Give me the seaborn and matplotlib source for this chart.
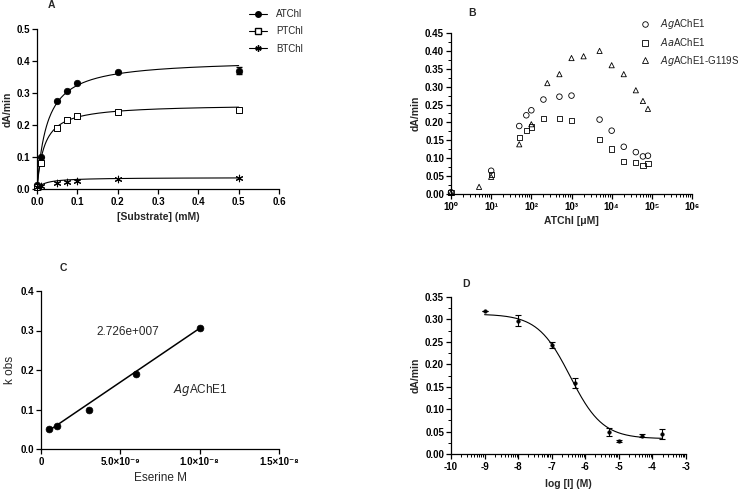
import numpy as np
import pandas as pd
import matplotlib
matplotlib.use("Agg")
import matplotlib.pyplot as plt
import seaborn as sns
from matplotlib.lines import Line2D
from matplotlib.ticker import FixedLocator, MultipleLocator, LogLocator, NullFormatter, FormatStrFormatter

# ---------------- data ----------------
# Panel A: substrate kinetics
subs_mM = [0.0, 0.01, 0.05, 0.075, 0.1, 0.2, 0.5]
atchl = [0.012, 0.100, 0.275, 0.305, 0.330, 0.367, 0.370]
atchl_err = [0, 0, 0, 0, 0, 0, 0.012]
ptchl = [0.005, 0.080, 0.190, 0.215, 0.227, 0.241, 0.247]
btchl = [0.005, 0.008, 0.020, 0.022, 0.025, 0.030, 0.033]
# Michaelis-Menten fit parameters (Vmax, Km)
fit_atchl = (0.405, 0.025)
fit_ptchl = (0.265, 0.018)
fit_btchl = (0.036, 0.020)

# Panel B: substrate inhibition
agache1_x = [1, 10, 50, 75, 100, 200, 500, 1000, 5000, 10000, 20000, 40000, 60000, 80000]
agache1_y = [0.005, 0.065, 0.190, 0.220, 0.234, 0.264, 0.272, 0.275, 0.208, 0.177, 0.132, 0.117, 0.105, 0.107]
aaache1_x = [1, 10, 50, 75, 100, 200, 500, 1000, 5000, 10000, 20000, 40000, 60000, 80000]
aaache1_y = [0.005, 0.055, 0.158, 0.177, 0.187, 0.212, 0.210, 0.205, 0.152, 0.126, 0.090, 0.087, 0.080, 0.085]
g119s_x = [1, 5, 10, 50, 100, 250, 500, 1000, 2000, 5000, 10000, 20000, 40000, 60000, 80000]
g119s_y = [0.003, 0.020, 0.048, 0.139, 0.195, 0.310, 0.335, 0.380, 0.385, 0.400, 0.360, 0.335, 0.290, 0.260, 0.238]
b_xticklabels = ["10⁰", "10¹", "10²", "10³", "10⁴", "10⁵", "10⁶"]

# Panel C: kobs vs eserine
eserine_M = [0.5e-9, 1e-9, 3e-9, 6e-9, 1e-8]
kobs = [0.051, 0.059, 0.099, 0.191, 0.306]
kobs_slope = 2.726e7
kobs_intercept = 0.033
c_xticks = [0, 5e-9, 1e-8, 1.5e-8]
c_xticklabels = ["0", "5.0×10⁻⁹", "1.0×10⁻⁸", "1.5×10⁻⁸"]

# Panel D: inhibition curve
log_I = [-9, -8, -7, -6.3, -5.3, -5, -4.3, -3.7]
rate_D = [0.318, 0.297, 0.243, 0.158, 0.049, 0.029, 0.041, 0.045]
rate_D_err = [0, 0.012, 0.007, 0.011, 0.008, 0.003, 0.004, 0.011]
# four-parameter logistic fit (top, bottom, logIC50, hill)
fit_D = (0.312, 0.034, -6.45, 0.9)

# ---------------- style ----------------
sns.set_theme(style="ticks")
FAM = ["Liberation Sans", "DejaVu Sans"]
plt.rcParams["font.family"] = FAM
plt.rcParams.update({
    "axes.linewidth": 0.9,
    "xtick.major.width": 0.9, "ytick.major.width": 0.9,
    "xtick.minor.width": 0.7, "ytick.minor.width": 0.7,
    "xtick.major.size": 3.5, "ytick.major.size": 3.5,
    "xtick.minor.size": 2.0, "ytick.minor.size": 2.0,
    "xtick.major.pad": 2.5, "ytick.major.pad": 1.5,
    "axes.edgecolor": "black",
    "xtick.color": "black", "ytick.color": "black",
})

fig = plt.figure(figsize=(7.46, 4.90), dpi=100)
W, H = 746, 490

def add_ax(l, r, t, b):
    return fig.add_axes([l / W, 1 - b / H, (r - l) / W, (b - t) / H])

TFS = 7.0
LFS = 7.5

def style(ax):
    sns.despine(ax=ax)
    ax.tick_params(labelsize=TFS)
    for lab in ax.get_xticklabels() + ax.get_yticklabels():
        lab.set_fontweight("bold")
    ax.set_facecolor("none")

# ---------------- Panel A ----------------
axA = add_ax(37, 279, 29, 189)
xs = np.linspace(0, 0.5, 300)
for (vmax, km) in (fit_atchl, fit_ptchl, fit_btchl):
    sns.lineplot(x=xs, y=vmax * xs / (km + xs), ax=axA, color="black", lw=0.8)
axA.errorbar(subs_mM, atchl, yerr=atchl_err, fmt="none", ecolor="black", elinewidth=0.8, capsize=2)
sns.scatterplot(x=subs_mM, y=atchl, ax=axA, marker="o", s=22, color="black", edgecolor="black", linewidth=0.5, clip_on=False, zorder=5)
sns.scatterplot(x=subs_mM, y=ptchl, ax=axA, marker="s", s=18, facecolor="white", edgecolor="black", linewidth=0.7, clip_on=False, zorder=5)
sns.scatterplot(x=subs_mM, y=btchl, ax=axA, marker=(6, 2, 0), s=22, color="black", linewidth=0.8, clip_on=False, zorder=5)
axA.set_xlim(0, 0.6)
axA.set_ylim(0, 0.5)
axA.xaxis.set_major_locator(MultipleLocator(0.1))
axA.yaxis.set_major_locator(MultipleLocator(0.1))
axA.xaxis.set_major_formatter(FormatStrFormatter("%.1f"))
axA.yaxis.set_major_formatter(FormatStrFormatter("%.1f"))
axA.set_xlabel("[Substrate] (mM)", fontsize=LFS, fontweight="bold", labelpad=3)
axA.set_ylabel("dA/min", fontsize=LFS, fontweight="bold", labelpad=3)
style(axA)
hA = [
    Line2D([], [], color="black", lw=0.8, marker="o", ms=4, mfc="black", mec="black"),
    Line2D([], [], color="black", lw=0.8, marker="s", ms=3.8, mfc="white", mec="black"),
    Line2D([], [], color="black", lw=0.8, marker=(6, 2, 0), ms=4.5, mec="black"),
]
fig.legend(hA, ["ATChl", "PTChl", "BTChl"], loc="upper left", bbox_to_anchor=(249 / W, 1 - 9 / H),
           frameon=False, fontsize=7, handlelength=1.9, handletextpad=0.9, labelspacing=0.75,
           borderaxespad=0, borderpad=0)
fig.text(51 / W, 1 - 5 / H, "A", fontsize=7.5, fontweight="bold", va="center", ha="center")

# ---------------- Panel B ----------------
axB = add_ax(451, 692, 33, 194)
sns.scatterplot(x=agache1_x, y=agache1_y, ax=axB, marker="o", s=16, facecolor="none", edgecolor="black", linewidth=0.6, clip_on=False, zorder=5)
sns.scatterplot(x=aaache1_x, y=aaache1_y, ax=axB, marker="s", s=14, facecolor="none", edgecolor="black", linewidth=0.6, clip_on=False, zorder=5)
sns.scatterplot(x=g119s_x, y=g119s_y, ax=axB, marker="^", s=14, facecolor="none", edgecolor="black", linewidth=0.6, clip_on=False, zorder=5)
axB.set_xscale("log")
axB.set_xlim(1, 1e6)
axB.set_ylim(0, 0.45)
axB.xaxis.set_major_locator(FixedLocator([10 ** k for k in range(7)]))
axB.set_xticklabels(b_xticklabels)
axB.xaxis.set_minor_locator(LogLocator(base=10, subs=np.arange(2, 10), numticks=20))
axB.xaxis.set_minor_formatter(NullFormatter())
axB.yaxis.set_major_locator(MultipleLocator(0.05))
axB.yaxis.set_minor_locator(MultipleLocator(0.025))
axB.yaxis.set_major_formatter(FormatStrFormatter("%.2f"))
axB.set_xlabel("ATChl [μM]", fontsize=LFS, fontweight="bold", labelpad=3)
axB.set_ylabel("dA/min", fontsize=LFS, fontweight="bold", labelpad=3)
style(axB)
hB = [
    Line2D([], [], ls="none", marker="o", ms=4, mfc="none", mec="black", mew=0.6),
    Line2D([], [], ls="none", marker="s", ms=3.8, mfc="none", mec="black", mew=0.6),
    Line2D([], [], ls="none", marker="^", ms=3.8, mfc="none", mec="black", mew=0.6),
]
labsB = [r"$\it{Ag}$AChE1", r"$\it{Aa}$AChE1", r"$\it{Ag}$AChE1-G119S"]
fig.legend(hB, labsB, loc="upper left", bbox_to_anchor=(640 / W, 1 - 17 / H),
           frameon=False, fontsize=7, handlelength=1.0, handletextpad=1.1, labelspacing=0.55,
           borderaxespad=0, borderpad=0)
fig.text(472 / W, 1 - 13 / H, "B", fontsize=7.5, fontweight="bold", va="center", ha="center")

# ---------------- Panel C ----------------
axC = add_ax(41, 279, 291, 449)
xl = np.array([eserine_M[0], eserine_M[-1]])
sns.lineplot(x=xl, y=kobs_intercept + kobs_slope * xl, ax=axC, color="black", lw=1.1)
sns.scatterplot(x=eserine_M, y=kobs, ax=axC, marker="o", s=24, color="black", edgecolor="black", linewidth=0.5, zorder=5)
axC.set_xlim(0, 1.5e-8)
axC.set_ylim(0, 0.4)
axC.xaxis.set_major_locator(FixedLocator(c_xticks))
axC.set_xticklabels(c_xticklabels)
axC.yaxis.set_major_locator(MultipleLocator(0.1))
axC.yaxis.set_major_formatter(FormatStrFormatter("%.1f"))
axC.set_xlabel("Eserine M", fontsize=8.5, labelpad=3)
axC.set_ylabel("k obs", fontsize=8.5, labelpad=3)
style(axC)
axC.text(0.35e-8, 0.295, "2.726e+007", fontsize=8.5, va="center", ha="left")
axC.text(0.83e-8, 0.149, r"$\it{Ag}$AChE1", fontsize=8.5, va="center", ha="left")
fig.text(63 / W, 1 - 268 / H, "C", fontsize=7.5, fontweight="bold", va="center", ha="center")

# ---------------- Panel D ----------------
axD = add_ax(451, 686, 297, 454)
xd = np.linspace(-9, -3.7, 300)
top, bottom, logic50, hill = fit_D
sns.lineplot(x=xd, y=bottom + (top - bottom) / (1 + 10 ** (hill * (xd - logic50))), ax=axD, color="black", lw=0.8)
axD.errorbar(log_I, rate_D, yerr=rate_D_err, fmt="none", ecolor="black", elinewidth=0.8, capsize=2, capthick=0.8)
sns.scatterplot(x=log_I, y=rate_D, ax=axD, marker="o", s=7, color="black", edgecolor="black", linewidth=0.3, zorder=5)
axD.set_xlim(-10, -3)
axD.set_ylim(0, 0.35)
axD.xaxis.set_major_locator(MultipleLocator(1))
axD.xaxis.set_minor_locator(FixedLocator([n + np.log10(k) for n in range(-10, -3) for k in range(2, 10)]))
axD.xaxis.set_major_formatter(FormatStrFormatter("%d"))
axD.yaxis.set_major_locator(MultipleLocator(0.05))
axD.yaxis.set_minor_locator(MultipleLocator(0.025))
axD.yaxis.set_major_formatter(FormatStrFormatter("%.2f"))
axD.set_xlabel("log [I] (M)", fontsize=LFS, fontweight="bold", labelpad=5)
axD.set_ylabel("dA/min", fontsize=LFS, fontweight="bold", labelpad=3)
style(axD)
axD.set_xticklabels([t.get_text().replace("\u2212", "-") for t in axD.get_xticklabels()], fontweight="bold")
fig.text(466 / W, 1 - 284 / H, "D", fontsize=7.5, fontweight="bold", va="center", ha="center")

fig.savefig("out.png", dpi=100, facecolor="white")
